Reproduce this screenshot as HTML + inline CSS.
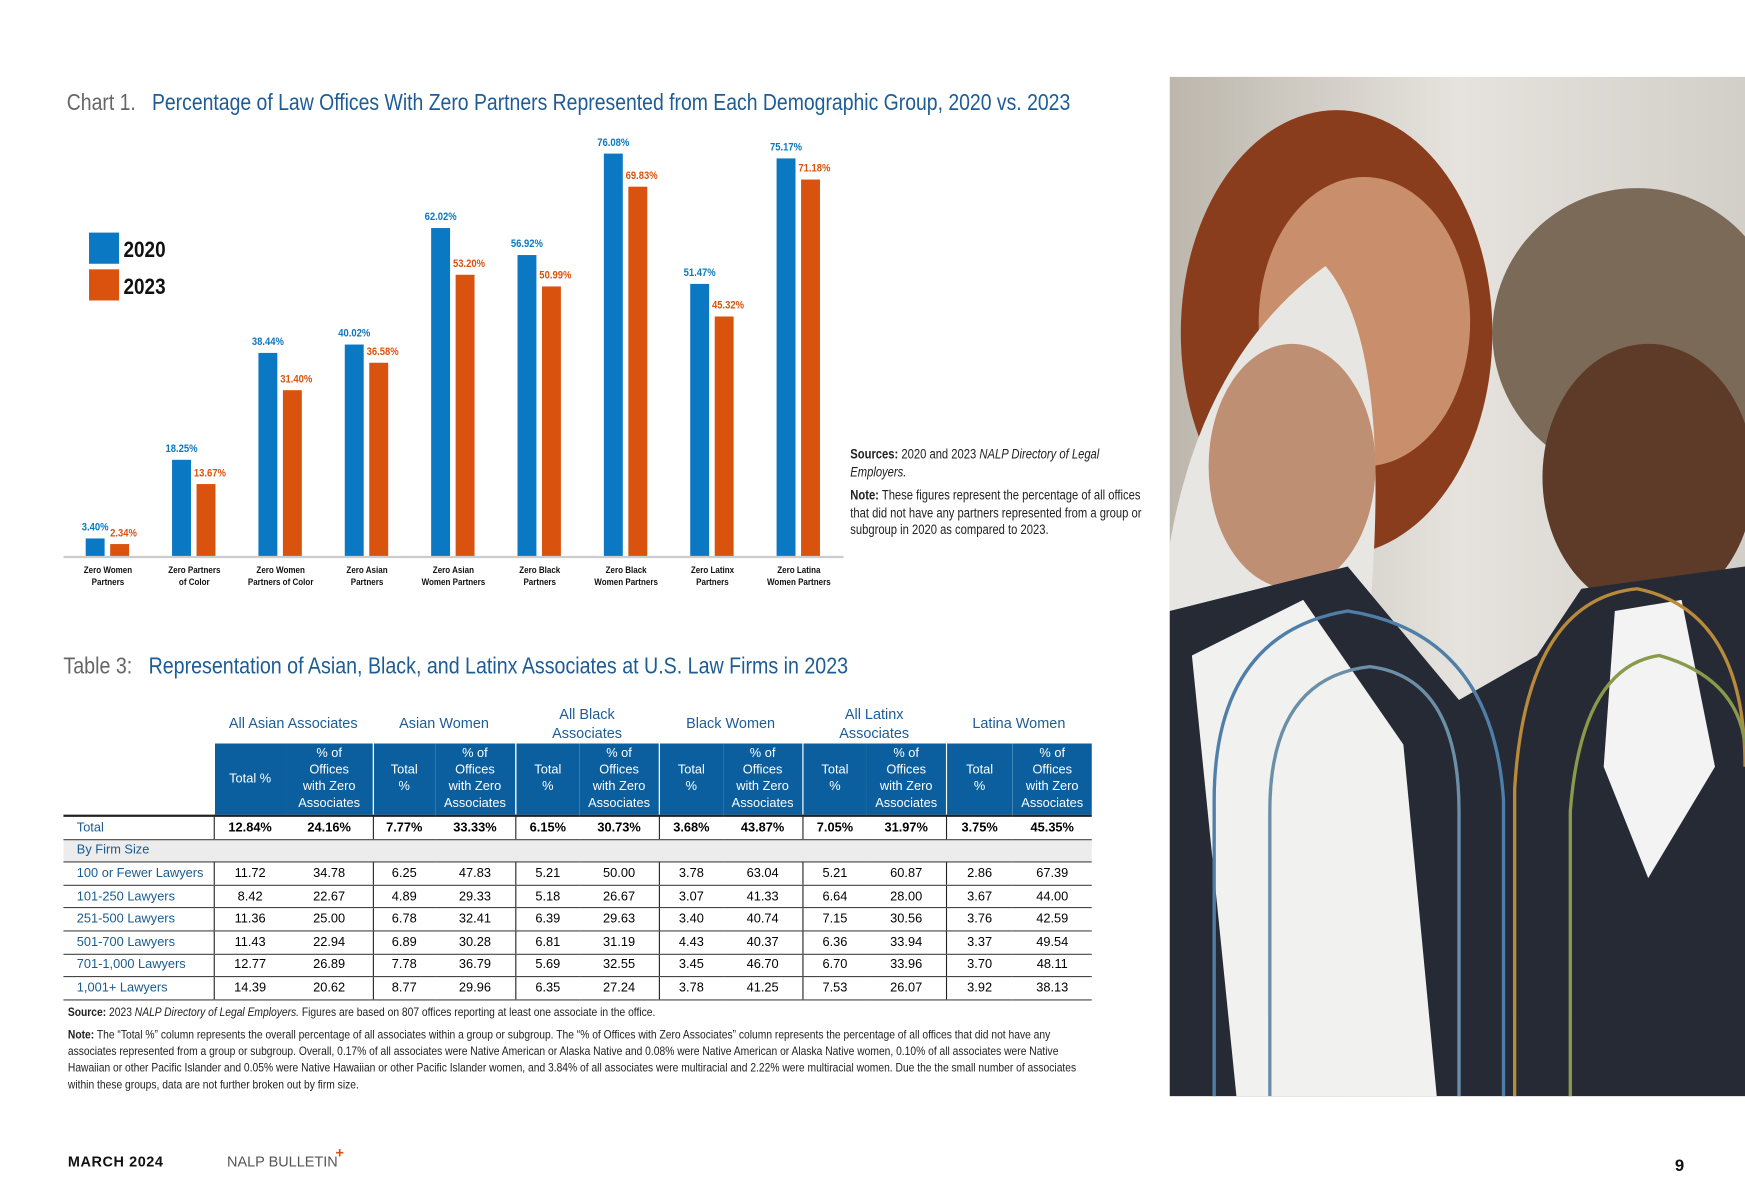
<!DOCTYPE html>
<html><head><meta charset="utf-8">
<style>
html,body{margin:0;padding:0;background:#fff;}
body{width:1745px;height:1200px;overflow:hidden;position:relative;font-family:"Liberation Sans",sans-serif;}
#page{position:absolute;left:0;top:0;width:1568px;height:1078px;transform:scale(1.1129);transform-origin:0 0;}
.abs{position:absolute;}
.cond{display:inline-block;transform:scaleX(.84);transform-origin:0 0;white-space:nowrap;}
table{border-collapse:collapse;table-layout:fixed;font-size:11.5px;}
td{padding:0;text-align:center;overflow:hidden;white-space:nowrap;}
.gh td{color:#1d5c96;font-size:13px;line-height:17px;vertical-align:middle;}
.bh td{background:#0b5f9e;color:#fff;font-size:11.5px;line-height:15px;border-left:1.5px solid #fff;}
.rl{text-align:left;color:#1a5b8f;padding-left:12px;}
.dr td{border-bottom:1.2px solid #444;height:19.6px;}
.dr td.gb{border-left:1.5px solid #222;}
.note{font-size:11px;color:#222;line-height:15px;}
</style></head>
<body>
<div id="page">
  <div class="abs" style="left:60px;top:81px;font-size:21px;"><span class="cond" style="transform:scaleX(.83)"><span style="color:#666">Chart 1.</span>&nbsp;&nbsp;&nbsp;<span style="color:#1d5c96">Percentage of Law Offices With Zero Partners Represented from Each Demographic Group, 2020 vs. 2023</span></span></div>

  <svg class="abs" style="left:0;top:100px" width="1050" height="440" id="chart"></svg>

  <div class="abs" style="left:764px;top:401px;width:270px;font-size:12px;line-height:15.5px;color:#222">
    <div class="cond" style="white-space:normal;width:320px"><b>Sources:</b> 2020 and 2023 <i>NALP Directory of Legal Employers.</i><div style="height:6px"></div><b>Note:</b> These figures represent the percentage of all offices that did not have any partners represented from a group or subgroup in 2020 as compared to 2023.</div>
  </div>

  <div class="abs" style="left:57px;top:587px;font-size:21px;"><span class="cond"><span style="color:#666">Table 3:</span>&nbsp;&nbsp;&nbsp;<span style="color:#1d5c96">Representation of Asian, Black, and Latinx Associates at U.S. Law Firms in 2023</span></span></div>

  <table class="abs" style="left:57px;top:631px;width:924px">
    <colgroup><col style="width:135px"><col style="width:65px"><col style="width:78px"><col style="width:56px"><col style="width:72px"><col style="width:58px"><col style="width:71px"><col style="width:58px"><col style="width:71px"><col style="width:58px"><col style="width:71px"><col style="width:60px"><col style="width:71px"></colgroup>
    <tr class="gh" style="height:37px"><td></td><td colspan="2">All Asian Associates</td><td colspan="2">Asian Women</td><td colspan="2">All Black<br>Associates</td><td colspan="2">Black Women</td><td colspan="2">All Latinx<br>Associates</td><td colspan="2">Latina Women</td></tr>
    <tr class="bh" style="height:65px"><td style="background:#fff;border:none"></td>
      <td>Total %</td><td style="border-left:none">% of<br>Offices<br>with Zero<br>Associates</td>
      <td>Total<br>%</td><td style="border-left:none">% of<br>Offices<br>with Zero<br>Associates</td>
      <td>Total<br>%</td><td style="border-left:none">% of<br>Offices<br>with Zero<br>Associates</td>
      <td>Total<br>%</td><td style="border-left:none">% of<br>Offices<br>with Zero<br>Associates</td>
      <td>Total<br>%</td><td style="border-left:none">% of<br>Offices<br>with Zero<br>Associates</td>
      <td>Total<br>%</td><td style="border-left:none">% of<br>Offices<br>with Zero<br>Associates</td></tr>
    <tbody id="tbody"></tbody>
  </table>

  <div class="abs note" style="left:61px;top:903px;width:1000px"><span class="cond"><b>Source:</b> 2023 <i>NALP Directory of Legal Employers.</i> Figures are based on 807 offices reporting at least one associate in the office.</span></div>
  <div class="abs note" style="left:61px;top:923px;width:1085px"><div class="cond" style="white-space:normal;width:1085px"><b>Note:</b> The “Total %” column represents the overall percentage of all associates within a group or subgroup. The “% of Offices with Zero Associates” column represents the percentage of all offices that did not have any associates represented from a group or subgroup. Overall, 0.17% of all associates were Native American or Alaska Native and 0.08% were Native American or Alaska Native women, 0.10% of all associates were Native Hawaiian or other Pacific Islander and 0.05% were Native Hawaiian or other Pacific Islander women, and 3.84% of all associates were multiracial and 2.22% were multiracial women. Due the the small number of associates within these groups, data are not further broken out by firm size.</div></div>

  <div class="abs" style="left:61px;top:1036px;font-size:13px;font-weight:bold;letter-spacing:.5px;color:#111">MARCH 2024</div>
  <div class="abs" style="left:204px;top:1036px;font-size:13px;color:#555">NALP BULLETIN<span style="color:#d9530f;font-weight:bold;position:relative;top:-8px;left:-2px">+</span></div>
  <div class="abs" style="left:1505px;top:1039px;font-size:15px;font-weight:bold;color:#111">9</div>

  <svg class="abs" style="left:1051px;top:69px" width="517" height="916">
    <defs><linearGradient id="bg" x1="0" y1="0" x2="1" y2="0"><stop offset="0" stop-color="#bcb6ac"/><stop offset=".5" stop-color="#e6e3de"/><stop offset="1" stop-color="#d2cec8"/></linearGradient></defs>
    <rect width="517" height="916" fill="url(#bg)"/>
    <ellipse cx="150" cy="230" rx="140" ry="200" fill="#8a3d1c"/>
    <ellipse cx="420" cy="230" rx="130" ry="130" fill="#7b6a58"/>
    <ellipse cx="175" cy="220" rx="95" ry="130" fill="#c98e6c"/>
    <path d="M0 420 Q30 250 140 170 Q200 240 180 480 L0 500Z" fill="#e8e6e2"/>
    <ellipse cx="110" cy="350" rx="75" ry="110" fill="#bf8f74"/>
    <ellipse cx="430" cy="360" rx="95" ry="120" fill="#5e3a28"/>
    <path d="M0 480 L160 440 L260 560 L330 520 L370 460 L517 440 L517 916 L0 916Z" fill="#262a34"/>
    <path d="M20 520 L120 470 L210 600 L240 916 L60 916Z" fill="#f1f1f0"/>
    <path d="M400 480 L460 470 L490 620 L430 720 L390 620Z" fill="#f3f3f3"/>
    <g fill="none" stroke-width="3">
      <path d="M40 916 V650 Q40 500 160 480 Q290 500 300 650 V916" stroke="#4f7ea8"/>
      <path d="M90 916 V660 Q90 540 180 530 Q260 540 260 660 V916" stroke="#6c8fa8"/>
      <path d="M310 916 V640 Q320 470 420 460 Q517 480 517 620" stroke="#b98a3a"/>
      <path d="M360 916 V660 Q370 530 440 520 Q510 540 517 600" stroke="#8a9a4a"/>
    </g>
  </svg>
</div>

<script>
const categories = [["Zero Women","Partners"],["Zero Partners","of Color"],["Zero Women","Partners of Color"],["Zero Asian","Partners"],["Zero Asian","Women Partners"],["Zero Black","Partners"],["Zero Black","Women Partners"],["Zero Latinx","Partners"],["Zero Latina","Women Partners"]];
const values2020 = [3.40,18.25,38.44,40.02,62.02,56.92,76.08,51.47,75.17];
const values2023 = [2.34,13.67,31.40,36.58,53.20,50.99,69.83,45.32,71.18];
const legendLabels = ["2020","2023"];

const rows = [
 ["Total",["12.84%","24.16%","7.77%","33.33%","6.15%","30.73%","3.68%","43.87%","7.05%","31.97%","3.75%","45.35%"]],
 ["By Firm Size",null],
 ["100 or Fewer Lawyers",["11.72","34.78","6.25","47.83","5.21","50.00","3.78","63.04","5.21","60.87","2.86","67.39"]],
 ["101-250 Lawyers",["8.42","22.67","4.89","29.33","5.18","26.67","3.07","41.33","6.64","28.00","3.67","44.00"]],
 ["251-500 Lawyers",["11.36","25.00","6.78","32.41","6.39","29.63","3.40","40.74","7.15","30.56","3.76","42.59"]],
 ["501-700 Lawyers",["11.43","22.94","6.89","30.28","6.81","31.19","4.43","40.37","6.36","33.94","3.37","49.54"]],
 ["701-1,000 Lawyers",["12.77","26.89","7.78","36.79","5.69","32.55","3.45","46.70","6.70","33.96","3.70","48.11"]],
 ["1,001+ Lawyers",["14.39","20.62","8.77","29.96","6.35","27.24","3.78","41.25","7.53","26.07","3.92","38.13"]]
];

const NS="http://www.w3.org/2000/svg";
const svg=document.getElementById('chart');
const base=400, pxPer=4.758, x0=97, step=77.6;
const yOf=v=>base-v*pxPer;
const xOf=i=>x0+i*step;
function mk(t,a){const e=document.createElementNS(NS,t);for(const k in a)e.setAttribute(k,a[k]);svg.appendChild(e);return e;}
const BLUE="#0a78c2",ORANGE="#d9530f";
categories.forEach((c,i)=>{
  const cx=xOf(i);
  const b=mk('rect',{x:cx-20,y:yOf(values2020[i]),width:17,height:values2020[i]*pxPer,fill:BLUE});
  
  
  const o=mk('rect',{x:cx+2,y:yOf(values2023[i]),width:17,height:values2023[i]*pxPer,fill:ORANGE});
  
  
  const t1=mk('text',{x:cx-11.5,y:yOf(values2020[i])-7,'text-anchor':'middle','font-size':'10','font-weight':'bold',fill:BLUE,transform:`translate(${(cx-11.5)*0.15},0) scale(.85,1)`});
  t1.textContent=values2020[i].toFixed(2)+'%';
  
  
  const ox=cx+14;
  const t2=mk('text',{x:ox,y:yOf(values2023[i])-7,'text-anchor':'middle','font-size':'10','font-weight':'bold',fill:ORANGE,transform:`translate(${ox*0.15},0) scale(.85,1)`});
  t2.textContent=values2023[i].toFixed(2)+'%';
  
  
  c.forEach((l,j)=>{
    const t=mk('text',{x:cx,y:base+15+j*10.5,'text-anchor':'middle','font-size':'8.5','font-weight':'bold',fill:'#111',transform:`translate(${cx*0.15},0) scale(.85,1)`});
    t.textContent=l;
    
    
  });
});
const ax=mk('line',{x1:57,x2:758,y1:base+0.5,y2:base+0.5,stroke:'#ccc','stroke-width':2});


[BLUE,ORANGE].forEach((col,k)=>{
  const r=mk('rect',{x:80,y:109+k*33,width:27,height:28,fill:col});
  
  
  const t=mk('text',{x:111,y:131+k*33,'font-size':'20','font-weight':'bold',fill:'#111',transform:`translate(${111*0.15},0) scale(.85,1)`});
  t.textContent=legendLabels[k];
  
  
});

const tb=document.getElementById('tbody');
rows.forEach((r,ri)=>{
  const tr=document.createElement('tr');
  tr.className='dr';
  
  
  const l=document.createElement('td');l.className='rl';l.textContent=r[0];tr.appendChild(l);
  if(r[1]===null){l.colSpan=13;tr.style.background='#ececec';}
  else r[1].forEach((v,ci)=>{const d=document.createElement('td');d.textContent=v;if(ci%2===0)d.className='gb';if(ri===0)d.style.fontWeight='bold';tr.appendChild(d);});
  if(ri===0){tr.style.borderTop='2px solid #222';}
  tb.appendChild(tr);
});
</script>
</body></html>
